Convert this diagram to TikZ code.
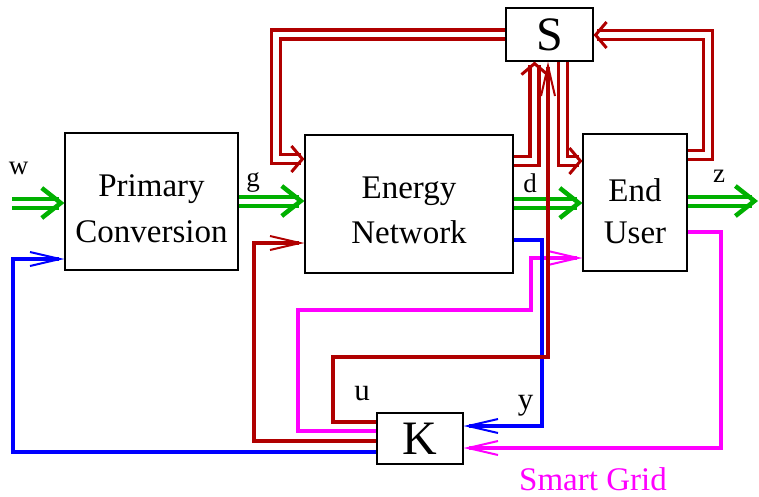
\documentclass[tikz,border=0pt]{standalone}
\usepackage{fontspec}
\setmainfont{Liberation Serif}
\newfontfamily\timesfont{Liberation Serif}
\usepackage{tikz}
\usetikzlibrary{arrows.meta, positioning}

\definecolor{sgred}{HTML}{B00000}
\definecolor{sggreen}{HTML}{00B000}
\definecolor{sgblue}{HTML}{0000FF}
\definecolor{sgmagenta}{HTML}{FF00FF}

\begin{document}
\begin{tikzpicture}[x=1pt, y=-1pt,
  block/.style={draw, line width=1.2pt, inner sep=0pt, align=center,
    font=\timesfont\fontsize{33}{45}\selectfont},
  tag/.style={anchor=base, inner sep=1pt, font=\timesfont\fontsize{27}{27}\selectfont},
  power/.style={sggreen, line width=4pt, double=white, double distance=5pt,
    -{Straight Barb[length=19pt, width=30pt, line width=4.5pt]}},
  info/.style={sgred, line width=3.3pt, double=white, double distance=5.5pt,
    -{Straight Barb[length=11pt, width=26pt, line width=3pt]}},
  ctrl/.style={line width=4.5pt,
    -{Straight Barb[length=30pt, width=14pt, line width=2pt]}}]
  \useasboundingbox (0,0) rectangle (759,496);

  % Blocks
  \node[block, minimum width=173, minimum height=137] (PC) at (151.5,201.5)
       {\rule{0pt}{37pt}Primary\\[1pt]Conversion};
  \node[block, minimum width=208, minimum height=138] (EN) at (409,204)
       {\rule{0pt}{35pt}Energy\\Network};
  \node[block, minimum width=104, minimum height=137] (EU) at (635,202.5)
       {\rule{0pt}{40pt}End\\[-3pt]User};
  \node[block, minimum width=87, minimum height=53,
        font=\timesfont\fontsize{48}{48}\selectfont] (S) at (549.5,34.5) {S};
  \node[block, minimum width=86, minimum height=51,
        font=\timesfont\fontsize{48}{48}\selectfont] (K) at (420,438.5) {K};

  % Free ends of the power flow
  \coordinate (win)  at (12,203);
  \coordinate (zout) at (758,201);

  % Power flow w -> g -> d -> z
  \draw[power] (win) -- (PC.west |- 0,203);
  \draw[power] (PC.east |- 0,201) -- (EN.west |- 0,201);
  \draw[power] (EN.east |- 0,203) -- (EU.west |- 0,203);
  \draw[power] (EU.east |- 0,201) -- (zout);

  % Smart grid loop (magenta)
  \draw[ctrl, sgmagenta] (K.west |- 0,431) -| (298,310) -| (531,258)
       -- (EU.west |- 0,258);
  \draw[ctrl, sgmagenta] (EU.east |- 0,232) -| (721,448) -- (K.east |- 0,448);

  % Measurements y and feedback to conversion (blue)
  \draw[ctrl, sgblue] (EN.east |- 0,240) -| (542,426) -- (K.east |- 0,426);
  \draw[ctrl, sgblue] (K.west |- 0,452) -| (13,259) -- (PC.west |- 0,259);

  % Information links through S
  \draw[info] (S.west) -| (276,159) -- (EN.west |- 0,159);
  \draw[info] (EU.east |- 0,155) -| (708,35) -- (S.east |- 0,35);
  \draw[info] (EN.east |- 0,161) -| (S.south -| 534.5,0);
  \draw[info] (S.south -| 563,0) |- (EU.west |- 0,161);

  % Control inputs u (red)
  \draw[ctrl, sgred] (K.west |- 0,441) -| (254,243) -- (EN.west |- 0,243);
  \draw[ctrl, sgred] (K.west |- 0,422) -| (333,357) -| (S.south -| 548,0);

  % Signal names
  \node[tag] (w) at (18.5,174) {w};
  \node[tag] (g) at (253,186) {g};
  \node[tag] (d) at (530,192) {d};
  \node[tag] (z) at (719,182) {z};
  \node[tag, font=\timesfont\fontsize{31}{31}\selectfont] (u) at (362,400) {u};
  \node[tag, font=\timesfont\fontsize{31}{31}\selectfont] (y) at (525.5,409) {y};
  \node[tag, sgmagenta, font=\timesfont\fontsize{33}{33}\selectfont] (grid)
       at (593,490) {Smart Grid};
\end{tikzpicture}
\end{document}
